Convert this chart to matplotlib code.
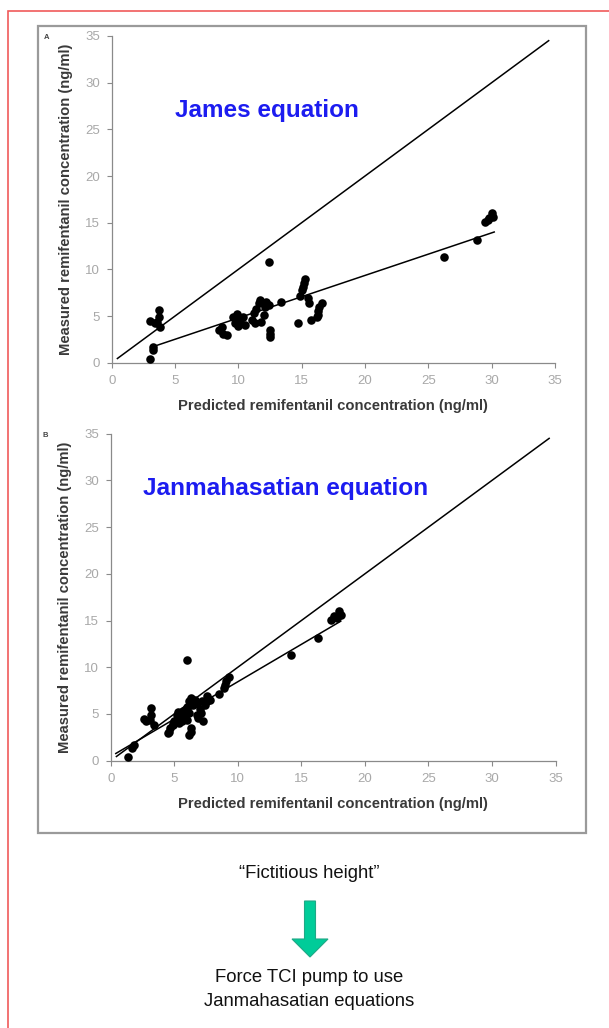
import matplotlib
matplotlib.use("Agg")
import matplotlib.pyplot as plt
from matplotlib.patches import Rectangle, Polygon

plt.rcParams['font.family'] = ['Liberation Sans', 'DejaVu Sans']

# measured concentration (ng/ml), same samples in both panels
measured = [0.35, 1.4, 1.7, 4.5, 4.2, 5.6, 4.9, 3.8, 4.4,
            3.5, 3.1, 3.0, 3.8, 4.9, 4.2, 3.9, 4.6, 4.9, 4.0, 5.2,
            4.6, 5.3, 5.8, 6.4, 6.7, 4.4, 5.1, 6.0, 6.5, 4.2, 6.2,
            10.8, 3.5, 2.8, 3.1, 6.5, 4.2,
            7.1, 7.8, 8.5, 9.0, 8.1, 6.9, 6.4, 4.6,
            4.9, 5.5, 6.0, 6.4, 5.1,
            11.3, 13.1, 15.1, 15.5, 16.0, 15.6, 15.3]

# predicted with the James equation
pred_james = [3.0, 3.3, 3.3, 3.0, 3.4, 3.75, 3.75, 3.8, 3.6,
              8.5, 8.8, 9.1, 8.7, 9.6, 9.7, 10.0, 10.1, 10.4, 10.5, 9.9,
              11.05, 11.2, 11.4, 11.6, 11.7, 11.8, 12.0, 12.1, 12.2, 11.3, 12.4,
              12.4, 12.5, 12.5, 12.5, 13.4, 14.7,
              14.9, 15.0, 15.2, 15.3, 15.1, 15.5, 15.6, 15.7,
              16.2, 16.3, 16.4, 16.6, 16.3,
              26.25, 28.85, 29.5, 29.8, 30.0, 30.1, 29.7]

# predicted with the Janmahasatian equation
pred_janm = [1.4, 1.65, 1.8, 2.6, 2.8, 3.2, 3.2, 3.4, 3.1,
             4.7, 4.6, 4.5, 4.9, 5.2, 5.0, 4.9, 5.3, 5.5, 5.4, 5.3,
             5.8, 5.7, 6.0, 6.2, 6.3, 6.0, 6.2, 6.5, 6.6, 5.6, 6.8,
             6.0, 6.3, 6.2, 6.3, 7.8, 7.3,
             8.5, 8.9, 9.1, 9.3, 9.0, 7.6, 7.2, 6.9,
             6.8, 7.0, 7.4, 7.6, 7.1,
             14.2, 16.3, 17.3, 17.6, 18.0, 18.1, 17.8]

# regression lines: (slope, intercept, x start, x end)
fit_james = (0.456, 0.23, 3.4, 30.2)
fit_janm = (0.80, 0.45, 0.4, 18.1)
identity_range = (0.45, 34.5)

ticks = [0, 5, 10, 15, 20, 25, 30, 35]
xlabel = "Predicted remifentanil concentration (ng/ml)"
ylabel = "Measured remifentanil concentration (ng/ml)"

W, H = 609, 1028
fig = plt.figure(figsize=(W / 100, H / 100), dpi=100)


def px(x, y):
    # pixel position -> figure fraction
    return x / W, 1 - y / H


# outer red border and gray picture frame
fig.add_artist(Rectangle(px(7.5, 1040), 620 / W, (1040 - 10.5) / H,
                         transform=fig.transFigure, fill=False,
                         edgecolor="#f05a5a", lw=1.2))
fig.add_artist(Rectangle(px(38, 833), (586 - 38) / W, (833 - 26) / H,
                         transform=fig.transFigure, fill=False,
                         edgecolor="#9a9a9a", lw=1.6))


def panel(rect, pred, fit, letter, title, title_xy, title_size):
    ax = fig.add_axes(rect)
    ax.scatter(pred, measured, s=38, color="black", zorder=3, linewidths=0)
    slope, icpt, x0, x1 = fit
    ax.plot([x0, x1], [slope * x0 + icpt, slope * x1 + icpt], color="black", lw=1.1)
    ax.plot(identity_range, identity_range, color="black", lw=1.1)
    ax.set_xlim(0, 35)
    ax.set_ylim(0, 35)
    ax.set_xticks(ticks)
    ax.set_yticks(ticks)
    for s in ["top", "right"]:
        ax.spines[s].set_visible(False)
    for s in ["left", "bottom"]:
        ax.spines[s].set_color("#8a8a8a")
        ax.spines[s].set_linewidth(0.9)
    ax.tick_params(direction="out", length=3.5, width=0.8, color="#8a8a8a",
                   labelcolor="#a8a8a8", labelsize=9.5, pad=5)
    ax.set_xlabel(xlabel, fontsize=10.6, fontweight="bold", color="#3a3a3a")
    ax.set_ylabel(ylabel, fontsize=10.6, fontweight="bold", color="#3a3a3a")
    ax.xaxis.set_label_coords(0.5, -0.11)
    ax.yaxis.set_label_coords(-0.088, 0.5)
    ax.text(-0.148, 0.995, letter, transform=ax.transAxes, fontsize=5.5,
            fontweight="bold", color="#444444", va="center", ha="center")
    fig.text(*px(*title_xy), title, color="#1c1cf0", fontsize=title_size,
             fontweight="bold", ha="center", va="center")
    return ax


panel([111.7 / W, 1 - 362.7 / H, 443.3 / W, 326.7 / H], pred_james, fit_james,
      "A", "James equation", (267, 110), 17.5)
panel([110.7 / W, 1 - 760.7 / H, 444.8 / W, 327 / H], pred_janm, fit_janm,
      "B", "Janmahasatian equation", (286, 488), 17.6)

# notes below the picture
fig.text(*px(309, 873), "\u201cFictitious height\u201d", fontsize=13.3,
         ha="center", va="center", color="#111111")
cx = 310
arrow = [(cx - 5.5, 901), (cx + 5.5, 901), (cx + 5.5, 939), (cx + 18, 939),
         (cx, 957), (cx - 18, 939), (cx - 5.5, 939)]
fig.add_artist(Polygon([px(x, y) for x, y in arrow], closed=True,
                       transform=fig.transFigure, facecolor="#00cc99",
                       edgecolor="#1fa886", lw=0.8))
fig.text(*px(309, 977), "Force TCI pump to use", fontsize=13.3,
         ha="center", va="center", color="#111111")
fig.text(*px(309, 1002), "Janmahasatian equations", fontsize=13.3,
         ha="center", va="center", color="#111111")

fig.savefig("out.png", dpi=100)
